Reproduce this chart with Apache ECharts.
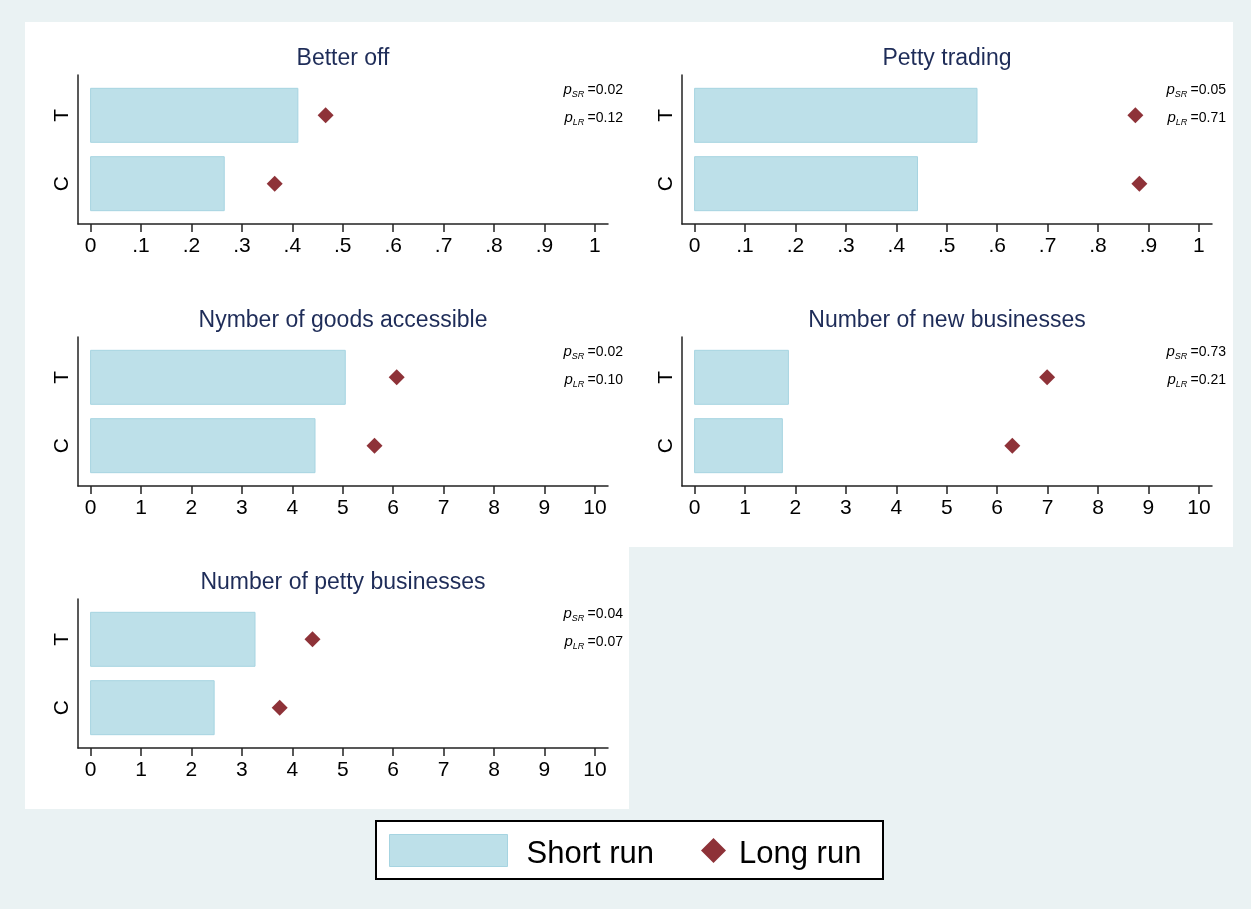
<!DOCTYPE html>
<html>
<head>
<meta charset="utf-8">
<title>Short run and long run effects</title>
<script src="https://cdn.jsdelivr.net/npm/echarts@6/dist/echarts.min.js"></script>
<style>
  html, body { margin: 0; padding: 0; background: #eaf2f3; }
  #main { width: 1251px; height: 909px; }
</style>
</head>
<body>
<div id="main"></div>
<script>
// values
var panelTitles = ['Better off', 'Petty trading', 'Nymber of goods accessible', 'Number of new businesses', 'Number of petty businesses'];
var groups = ['C', 'T'];
var shortRunC = [0.265, 0.442, 4.45, 1.74, 2.45];
var shortRunT = [0.411, 0.560, 5.05, 1.86, 3.26];
var longRunC = [0.365, 0.882, 5.63, 6.30, 3.75];
var longRunT = [0.466, 0.874, 6.07, 6.99, 4.40];
var pShortRun = ['0.02', '0.05', '0.02', '0.73', '0.04'];
var pLongRun = ['0.12', '0.71', '0.10', '0.21', '0.07'];
var panelScale = ['share', 'share', 'count', 'count', 'count'];
var shareTicks = ['0', '.1', '.2', '.3', '.4', '.5', '.6', '.7', '.8', '.9', '1'];
var countTicks = ['0', '1', '2', '3', '4', '5', '6', '7', '8', '9', '10'];

var FONT = "'Liberation Sans', Arial, Helvetica, sans-serif";
var BAR_FILL = '#bde0e9';
var BAR_EDGE = '#a6d4e1';
var DIAMOND = '#8e3238';
var TITLE_COLOR = '#1e2c58';
var AXIS_COLOR = '#222';

// layout
var colLeft = [78, 682];
var rowTop = [75, 337, 599];
var gridW = 530, gridH = 149;
var barThick = 0.79;

var grids = [], xAxes = [], yAxes = [], series = [], graphics = [];

graphics.push({ type: 'rect', z: -10, shape: { x: 25, y: 22, width: 1208, height: 525 }, style: { fill: '#fff' } });
graphics.push({ type: 'rect', z: -10, shape: { x: 25, y: 547, width: 604, height: 262 }, style: { fill: '#fff' } });
graphics.push({ type: 'rect', z: -10, shape: { x: 376, y: 821, width: 507, height: 58 }, style: { fill: '#fff', stroke: '#000', lineWidth: 2 } });

panelTitles.forEach(function (title, i) {
  var col = i % 2, row = Math.floor(i / 2);
  var left = colLeft[col], top = rowTop[row];
  var labels = panelScale[i] === 'share' ? shareTicks : countTicks;
  var ticks = labels.map(Number);
  var span = ticks[ticks.length - 1];

  grids.push({ left: left, top: top, width: gridW, height: gridH });

  xAxes.push({
    type: 'value', gridIndex: i,
    min: -0.025 * span, max: 1.026 * span,
    splitLine: { show: false },
    axisLine: { onZero: false, lineStyle: { color: AXIS_COLOR, width: 1.5 } },
    axisTick: { length: 8, lineStyle: { color: AXIS_COLOR, width: 1.5 }, customValues: ticks },
    axisLabel: {
      customValues: ticks, margin: 12, fontSize: 21, color: '#000', fontFamily: FONT,
      formatter: function (v) {
        var k = ticks.indexOf(v);
        return k >= 0 ? labels[k] : String(v).replace(/^0\./, '.');
      }
    }
  });

  yAxes.push({
    type: 'value', gridIndex: i,
    min: 0.41, max: 2.59,
    splitLine: { show: false },
    axisLine: { show: true, onZero: false, lineStyle: { color: AXIS_COLOR, width: 1.5 } },
    axisTick: { show: false },
    axisLabel: {
      customValues: [1, 2], rotate: 90, margin: 5, fontSize: 21, color: '#000', fontFamily: FONT,
      formatter: function (v) { return groups[Math.round(v) - 1]; }
    }
  });

  series.push({
    name: 'Short run', type: 'custom', xAxisIndex: i, yAxisIndex: i,
    itemStyle: { color: BAR_FILL, borderColor: BAR_EDGE, borderWidth: 1 },
    encode: { x: 0, y: 1 },
    data: [[shortRunC[i], 1], [shortRunT[i], 2]],
    renderItem: function (params, api) {
      var y = api.value(1);
      var p0 = api.coord([0, y]);
      var p1 = api.coord([api.value(0), y]);
      var h = api.size([0, barThick])[1];
      return {
        type: 'rect',
        shape: { x: p0[0], y: p0[1] - h / 2, width: p1[0] - p0[0], height: h },
        style: { fill: BAR_FILL, stroke: BAR_EDGE, lineWidth: 1 }
      };
    }
  });

  series.push({
    name: 'Long run', type: 'scatter', xAxisIndex: i, yAxisIndex: i,
    symbol: 'diamond', symbolSize: 16, z: 5,
    itemStyle: { color: DIAMOND, opacity: 1 },
    data: [[longRunC[i], 1], [longRunT[i], 2]]
  });

  graphics.push({
    type: 'text', x: left + gridW / 2, y: top - 16,
    style: { text: title, fontSize: 23, fontFamily: FONT, fill: TITLE_COLOR, align: 'center', verticalAlign: 'middle' }
  });

  var rich = {
    p: { fontSize: 15, fontStyle: 'italic', fontFamily: FONT, fill: '#000', lineHeight: 18 },
    s: { fontSize: 9, fontStyle: 'italic', fontFamily: FONT, fill: '#000', verticalAlign: 'bottom', lineHeight: 12 },
    v: { fontSize: 14, fontFamily: FONT, fill: '#000', lineHeight: 18 }
  };
  var rightX = col === 0 ? 623 : 1226;
  graphics.push({
    type: 'text', x: rightX, y: top + 15,
    style: { text: '{p|p}{s|SR} {v|=' + pShortRun[i] + '}', rich: rich, align: 'right', verticalAlign: 'middle' }
  });
  graphics.push({
    type: 'text', x: rightX, y: top + 43,
    style: { text: '{p|p}{s|LR} {v|=' + pLongRun[i] + '}', rich: rich, align: 'right', verticalAlign: 'middle' }
  });
});

var legendRich = { t: { fontSize: 31, color: '#000', fontFamily: FONT, padding: [7, 0, 0, 0] } };

var chart = echarts.init(document.getElementById('main'));
chart.setOption({
  backgroundColor: '#eaf2f3',
  animation: false,
  textStyle: { fontFamily: FONT },
  grid: grids,
  xAxis: xAxes,
  yAxis: yAxes,
  legend: [
    {
      data: [{ name: 'Short run', icon: 'rect' }],
      left: 389, top: 834, padding: 0, selectedMode: false,
      itemWidth: 118, itemHeight: 32,
      itemStyle: { color: BAR_FILL, borderColor: BAR_EDGE, borderWidth: 1 },
      formatter: '{t|{name}}',
      textStyle: { fontSize: 31, color: '#000', fontFamily: FONT, padding: [0, 0, 0, 14], rich: legendRich }
    },
    {
      data: [{ name: 'Long run', icon: 'diamond' }],
      left: 701, top: 838, padding: 0, selectedMode: false,
      itemWidth: 25, itemHeight: 25,
      itemStyle: { color: DIAMOND },
      formatter: '{t|{name}}',
      textStyle: { fontSize: 31, color: '#000', fontFamily: FONT, padding: [0, 0, 0, 8], rich: legendRich }
    }
  ],
  graphic: graphics,
  series: series
});
</script>
</body>
</html>
